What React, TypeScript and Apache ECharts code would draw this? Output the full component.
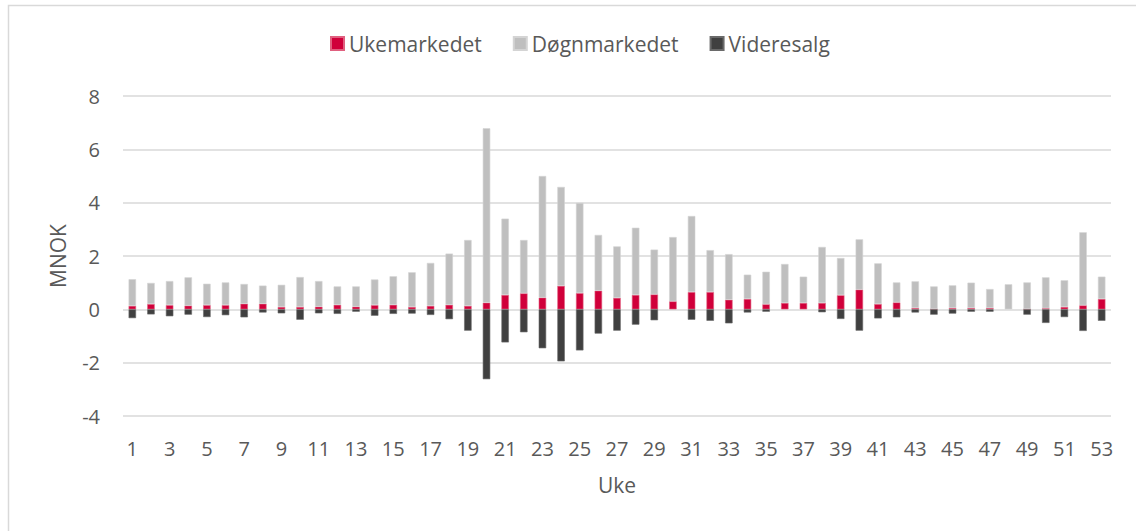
import React, { useEffect, useRef } from "react";
import * as echarts from "echarts";

const weeks: string[] = Array.from({ length: 53 }, (_, i) => String(i + 1));

const ukemarkedet: number[] = [
  0.13, 0.2, 0.16, 0.14, 0.16, 0.16, 0.21, 0.21, 0.09, 0.09,
  0.1, 0.17, 0.1, 0.16, 0.17, 0.09, 0.13, 0.17, 0.13, 0.25,
  0.54, 0.6, 0.44, 0.88, 0.61, 0.7, 0.43, 0.54, 0.56, 0.3,
  0.65, 0.65, 0.36, 0.39, 0.19, 0.24, 0.24, 0.24, 0.53, 0.74,
  0.2, 0.26, 0.05, 0.01, 0.05, 0.05, 0.05, 0, 0.01, 0.04,
  0.09, 0.15, 0.39,
];

const dognmarkedet: number[] = [
  1.0, 0.79, 0.9, 1.06, 0.8, 0.85, 0.74, 0.68, 0.83, 1.12,
  0.96, 0.69, 0.76, 0.96, 1.07, 1.3, 1.61, 1.92, 2.47, 6.54,
  2.86, 2.0, 4.56, 3.71, 3.38, 2.09, 1.93, 2.52, 1.68, 2.41,
  2.85, 1.57, 1.71, 0.91, 1.22, 1.46, 0.985, 2.1, 1.395, 1.885,
  1.525, 0.75, 1.0, 0.85, 0.85, 0.95, 0.71, 0.94, 1.0, 1.16,
  1.0, 2.74, 0.835,
];

const videresalg: number[] = [
  -0.33, -0.19, -0.26, -0.2, -0.29, -0.22, -0.3, -0.12, -0.15, -0.39,
  -0.15, -0.17, -0.09, -0.24, -0.17, -0.16, -0.21, -0.37, -0.8, -2.62,
  -1.24, -0.86, -1.46, -1.95, -1.54, -0.91, -0.8, -0.575, -0.41, 0,
  -0.39, -0.43, -0.525, -0.12, -0.09, 0, 0, -0.11, -0.36, -0.8,
  -0.34, -0.3, -0.12, -0.2, -0.16, -0.09, -0.09, 0, -0.2, -0.51,
  -0.29, -0.81, -0.43,
];

const yTicks = { min: -4, max: 8, interval: 2 };

const FONT = "'Open Sans', sans-serif";
const TEXT = "#595959";

// zero values draw no bar at all (avoid zero-height caps in the stack)
const noZero = (arr: number[]) => arr.map((v) => (v === 0 ? null : v));

export default function App() {
  const ref = useRef<HTMLDivElement>(null);
  useEffect(() => {
    if (!ref.current) return;
    const chart = echarts.init(ref.current, null, { renderer: "svg" });
    chart.setOption({
      animation: false,
      backgroundColor: "#ffffff",
      textStyle: { fontFamily: FONT, color: TEXT },
      graphic: [
        {
          type: "rect",
          shape: { x: 8.5, y: 5.5, width: 1300, height: 700 },
          style: { fill: "none", stroke: "#d9d9d9", lineWidth: 1.5 },
          silent: true,
        },
      ],
      legend: {
        top: 28,
        left: 325,
        itemWidth: 13,
        itemHeight: 13,
        itemGap: 31,
        icon: "rect",
        textStyle: { fontFamily: FONT, fontSize: 21, color: TEXT },
        data: ["Ukemarkedet", "Døgnmarkedet", "Videresalg"],
      },
      grid: { left: 123, right: 25, top: 96, bottom: 115, containLabel: false },
      xAxis: {
        type: "category",
        data: weeks,
        name: "Uke",
        nameLocation: "middle",
        nameGap: 58,
        nameTextStyle: { fontFamily: FONT, fontSize: 21, color: TEXT },
        axisLine: { show: false },
        axisTick: { show: false },
        axisLabel: {
          interval: 1,
          margin: 22,
          fontFamily: FONT,
          fontSize: 20,
          color: TEXT,
        },
      },
      yAxis: {
        type: "value",
        min: yTicks.min,
        max: yTicks.max,
        interval: yTicks.interval,
        name: "MNOK",
        nameLocation: "middle",
        nameGap: 55,
        nameRotate: 90,
        nameTextStyle: { fontFamily: FONT, fontSize: 21, color: TEXT },
        axisLine: { show: false },
        axisTick: { show: false },
        axisLabel: { margin: 23, fontFamily: FONT, fontSize: 20, color: TEXT },
        splitLine: { lineStyle: { color: "#d9d9d9", width: 1.5 } },
      },
      series: [
        {
          name: "Ukemarkedet",
          type: "bar",
          stack: "total",
          barWidth: "40%",
          data: noZero(ukemarkedet),
          itemStyle: { color: "#d0003a", borderColor: "#e0607f", borderWidth: 0.6 },
        },
        {
          name: "Døgnmarkedet",
          type: "bar",
          stack: "total",
          barWidth: "40%",
          data: noZero(dognmarkedet),
          itemStyle: { color: "#bfbfbf", borderColor: "#d4d4d4", borderWidth: 0.6 },
        },
        {
          name: "Videresalg",
          type: "bar",
          stack: "total",
          barWidth: "40%",
          data: noZero(videresalg),
          itemStyle: { color: "#404040", borderColor: "#6a6a6a", borderWidth: 0.6 },
        },
      ],
    });
    return () => chart.dispose();
  }, []);
  return (
    <div
      ref={ref}
      style={{ position: "fixed", left: 0, top: 0, width: 1136, height: 531 }}
    />
  );
}
